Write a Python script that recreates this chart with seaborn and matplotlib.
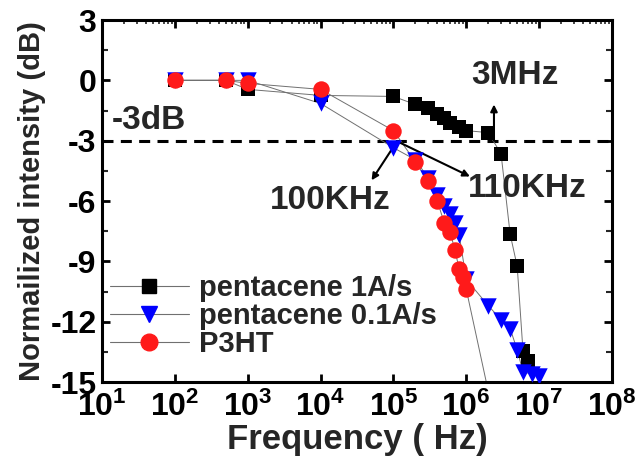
import numpy as np
import pandas as pd
import matplotlib
matplotlib.use("Agg")
import matplotlib.pyplot as plt
import seaborn as sns
from matplotlib.lines import Line2D
from matplotlib.ticker import LogLocator, FixedLocator, NullFormatter, MultipleLocator

# ---- data ----
f_pen1 = [1e2, 5e2, 1e3, 1e4, 1e5, 2e5, 3e5, 4e5, 5e5, 6e5, 8e5, 1e6, 2e6, 3e6, 4e6, 5e6, 6e6, 7e6]
db_pen1 = [0, 0, -0.45, -0.75, -0.8, -1.2, -1.4, -1.65, -1.85, -2.1, -2.3, -2.5, -2.6, -3.65, -7.65, -9.25, -13.45, -13.95]

f_pen01 = [1e2, 5e2, 1e3, 1e4, 1e5, 2e5, 3e5, 4e5, 5e5, 6e5, 7e5, 8e5, 1e6, 2e6, 3e6, 4e6, 5e6, 6e6, 8e6, 1e7]
db_pen01 = [0, 0, 0, -1.15, -3.35, -3.95, -4.85, -5.7, -6.25, -6.65, -7.1, -7.7, -9.9, -11.2, -11.9, -12.35, -13.4, -14.5, -14.6, -14.7]

f_p3ht = [1e2, 5e2, 1e3, 1e4, 1e5, 2e5, 3e5, 4e5, 5e5, 6e5, 7e5, 8e5, 9e5, 1e6, 3e6]
db_p3ht = [0, 0, -0.15, -0.45, -2.5, -4.05, -5.0, -6.0, -7.1, -7.55, -8.45, -9.4, -9.8, -10.4, -18.4]

labels = ["pentacene 1A/s", "pentacene 0.1A/s", "P3HT"]
x_ticks = [1e1, 1e2, 1e3, 1e4, 1e5, 1e6, 1e7, 1e8]
x_ticklabels = [r"$10^{%d}$" % i for i in range(1, 9)]
y_ticks = [3, 0, -3, -6, -9, -12, -15]

sns.set_theme(style="white")
plt.rcParams["font.family"] = ["Liberation Sans", "DejaVu Sans"]
plt.rcParams["font.weight"] = "bold"
plt.rcParams["mathtext.default"] = "regular"

fig = plt.figure(figsize=(6.37, 4.57), dpi=100)
ax = fig.add_axes([102 / 637, 1 - 382 / 457, 510 / 637, 362 / 457])
ax.set_xscale("log")

series = [
    (f_pen1, db_pen1, "s", "black", 100, 3),
    (f_pen01, db_pen01, "v", "#0000ff", 140, 4),
    (f_p3ht, db_p3ht, "o", "#ff1a1a", 140, 5),
]
for f, d, m, c, s, z in series:
    df = pd.DataFrame({"f": f, "d": d})
    sns.lineplot(data=df, x="f", y="d", sort=False, color="#707070", lw=0.7, ax=ax, zorder=2)
    sns.scatterplot(data=df, x="f", y="d", marker=m, color=c, s=s, linewidth=0, ax=ax, zorder=z)

ax.axhline(-3, color="black", lw=2.2, ls=(0, (3.6, 2.4)), zorder=1)

ax.set_xlim(1e1, 1e8)
ax.set_ylim(-15, 3)
ax.set_xticks(x_ticks)
ax.set_xticklabels(x_ticklabels)
ax.set_yticks(y_ticks)
ax.set_yticklabels([str(v) for v in y_ticks])
ax.xaxis.set_minor_locator(LogLocator(base=10, subs=np.arange(2, 10), numticks=20))
ax.xaxis.set_minor_formatter(NullFormatter())
ax.yaxis.set_minor_locator(MultipleLocator(1.5))

for sp in ax.spines.values():
    sp.set_linewidth(2.2)
    sp.set_color("black")

ax.tick_params(axis="both", which="major", direction="in", length=6, width=2, colors="black",
               labelsize=23, pad=4)
ax.tick_params(axis="x", which="major", top=True, bottom=True, pad=7, labelsize=23)
ax.tick_params(axis="y", which="major", left=True, right=True)
ax.tick_params(axis="x", which="minor", direction="in", length=3, width=1.2, top=True, bottom=False)
ax.tick_params(axis="y", which="minor", direction="in", length=4, width=1.5, left=True, right=True)
for lab in ax.get_xticklabels() + ax.get_yticklabels():
    lab.set_fontweight("bold")

ax.set_xlabel("Frequency ( Hz)", fontsize=25, fontweight="bold", labelpad=0)
ax.set_ylabel("Normailized intensity (dB)", fontsize=21, fontweight="bold", labelpad=3)

# annotations
ax.text(10 ** 1.14, -2.0, "-3dB", fontsize=24, fontweight="bold", va="center", ha="left")
ax.text(10 ** 6.07, 0.25, "3MHz", fontsize=24, fontweight="bold", va="center", ha="left")
ax.text(10 ** 6.02, -5.4, "110KHz", fontsize=24, fontweight="bold", va="center", ha="left")
ax.text(10 ** 3.30, -5.97, "100KHz", fontsize=24, fontweight="bold", va="center", ha="left")
arr = dict(arrowstyle="-|>", color="black", lw=1.5, mutation_scale=10, shrinkA=0, shrinkB=0)
ax.annotate("", xy=(10 ** 6.38, -1.2), xytext=(10 ** 6.38, -3.0), arrowprops=arr)
ax.annotate("", xy=(10 ** 6.05, -4.78), xytext=(10 ** 5.05, -3.03), arrowprops=arr)
ax.annotate("", xy=(10 ** 4.70, -4.97), xytext=(10 ** 5.05, -3.03), arrowprops=arr)

handles = [
    Line2D([], [], color="#707070", lw=0.8, marker="s", mfc="black", mec="black", ms=10),
    Line2D([], [], color="#707070", lw=0.8, marker="v", mfc="#0000ff", mec="#0000ff", ms=12),
    Line2D([], [], color="#707070", lw=0.8, marker="o", mfc="#ff1a1a", mec="#ff1a1a", ms=12),
]
leg = ax.legend(handles, labels, loc="center left", bbox_to_anchor=(110 / 637, 1 - 316 / 457),
                bbox_transform=fig.transFigure, frameon=False, handlelength=2.7,
                handletextpad=0.35, labelspacing=0.0, borderpad=0, borderaxespad=0, numpoints=1,
                prop={"weight": "bold", "size": 21})

fig.savefig("out.png", dpi=100)
